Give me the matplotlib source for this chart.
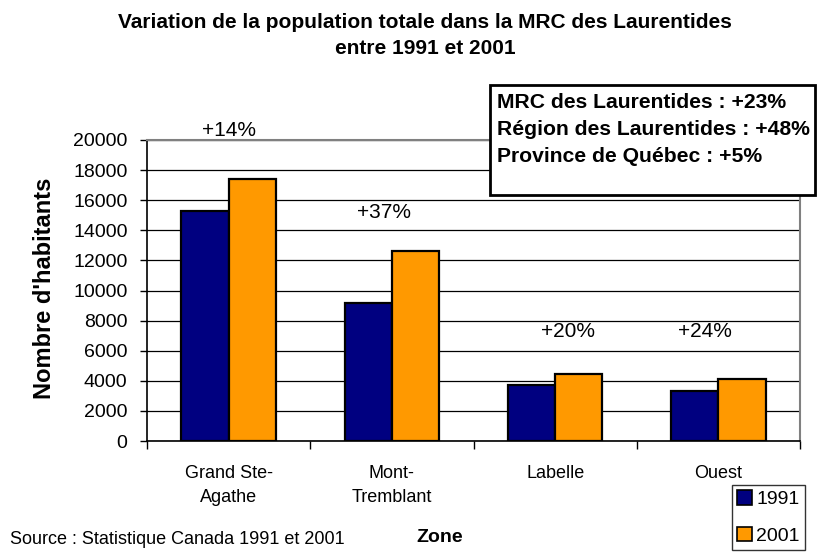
import matplotlib
matplotlib.use("Agg")
import matplotlib.pyplot as plt
from matplotlib.patches import Patch, Rectangle
import numpy as np

plt.rcParams['font.family'] = ['Liberation Sans', 'DejaVu Sans']

categories = ["Grand Ste-\nAgathe", "Mont-\nTremblant", "Labelle", "Ouest"]
pop_1991 = [15250, 9170, 3690, 3290]
pop_2001 = [17390, 12600, 4420, 4090]
series_names = ["1991", "2001"]
pct_labels = ["+14%", "+37%", "+20%", "+24%"]
pct_label_pos = [(0.0, 20600), (0.95, 15200), (2.08, 7250), (2.92, 7250)]
info_lines = ["MRC des Laurentides : +23%",
              "Région des Laurentides : +48%",
              "Province de Québec : +5%"]
yticks = list(range(0, 20001, 2000))

navy = "#000080"
orange = "#FF9900"

W, H = 825, 556
fig = plt.figure(figsize=(W / 100, H / 100), dpi=100)
ax = fig.add_axes([147 / W, 1 - 441 / H, (800 - 147) / W, (441 - 140) / H])

x = np.arange(len(categories))
bw = 0.29
ax.bar(x - bw / 2, pop_1991, bw, color=navy, edgecolor="black", linewidth=1.6, zorder=3)
ax.bar(x + bw / 2, pop_2001, bw, color=orange, edgecolor="black", linewidth=1.6, zorder=3)

ax.set_xlim(-0.5, len(categories) - 0.5)
ax.set_ylim(0, 20000)
ax.set_yticks(yticks)
ax.set_yticklabels([str(v) for v in yticks], fontsize=14)
ax.yaxis.grid(True, color="black", linewidth=0.9, zorder=0)
ax.set_axisbelow(True)
ax.tick_params(axis="y", direction="out", length=5, width=1, pad=9)

ax.set_xticks(x)
ax.set_xticklabels(categories, fontsize=13, multialignment="center", linespacing=1.55)
ax.tick_params(axis="x", length=0, pad=17)
ax.set_xticks(np.arange(-0.5, len(categories), 1.0), minor=True)
ax.tick_params(axis="x", which="minor", direction="out", length=6, width=1)

for s in ["left", "bottom"]:
    ax.spines[s].set_color("black")
    ax.spines[s].set_linewidth(1.2)
for s in ["top", "right"]:
    ax.spines[s].set_color("#808080")
    ax.spines[s].set_linewidth(1.5)

for lab, (px, py) in zip(pct_labels, pct_label_pos):
    ax.text(px, py, lab, ha="center", va="center", fontsize=15, clip_on=False)

# Title
fig.text(425 / W, 1 - 35.5 / H, "Variation de la population totale dans la MRC des Laurentides\nentre 1991 et 2001",
         ha="center", va="center", fontsize=15, fontweight="bold", linespacing=1.45)

# Axis labels
fig.text(45 / W, 1 - 288 / H, "Nombre d'habitants", rotation=90, ha="center", va="center",
         fontsize=17, fontweight="bold")
fig.text(440 / W, 1 - 537 / H, "Zone", ha="center", va="center", fontsize=14, fontweight="bold")
fig.text(10 / W, 1 - 540 / H, "Source : Statistique Canada 1991 et 2001", ha="left", va="center", fontsize=13)

# Info box
box = Rectangle((490 / W, 1 - 195 / H), (815 - 490) / W, (195 - 85) / H, transform=fig.transFigure,
                facecolor="white", edgecolor="black", linewidth=2, zorder=5)
fig.patches.append(box)
for i, line in enumerate(info_lines):
    fig.text(497 / W, 1 - (102 + 27.5 * i) / H, line, ha="left", va="center", fontsize=15.2,
             fontweight="bold", zorder=6)

# Legend
handles = [Patch(facecolor=navy, edgecolor="black", linewidth=1.2),
           Patch(facecolor=orange, edgecolor="black", linewidth=1.2)]
leg = fig.legend(handles, series_names, loc="upper left", bbox_to_anchor=(732 / W, 1 - 485 / H),
                 fontsize=14, frameon=True, fancybox=False, handlelength=0.8, handleheight=0.8,
                 handletextpad=0.2, borderpad=0.25, labelspacing=0.95, borderaxespad=0)
leg.get_frame().set_edgecolor("black")
leg.get_frame().set_linewidth(1.0)

fig.savefig("out.png", dpi=100)
